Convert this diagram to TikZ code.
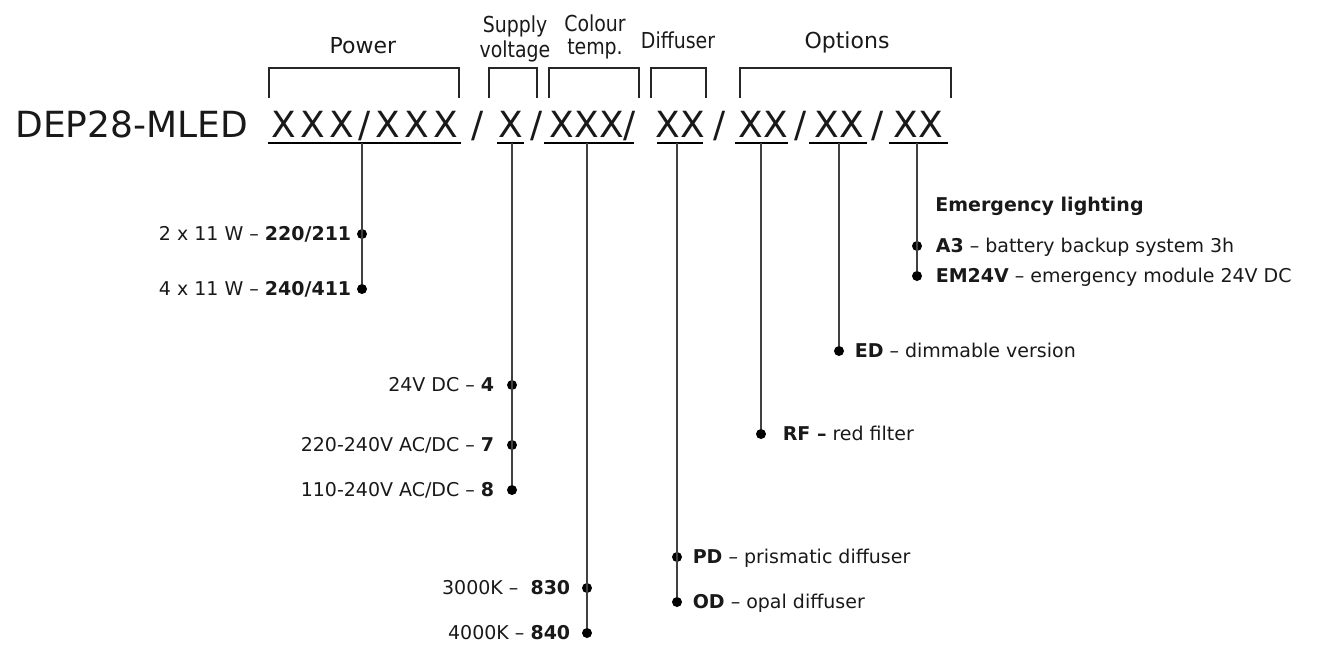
\documentclass[tikz,border=0pt]{standalone}
\usepackage{fontspec}
\setmainfont{DejaVu Sans}
\newfontfamily\narrowfont[FakeStretch=0.86]{DejaVu Sans}
\newfontfamily\xfont[LetterSpace=12]{DejaVu Sans}
\usetikzlibrary{positioning}

\begin{document}
\begin{tikzpicture}[x=0.5pt,y=-0.5pt,
    stem/.style={line width=1pt,draw=black!75},
    brk/.style={line width=0.8pt,draw=black!85},
    uline/.style={line width=1pt},
    dot/.style={circle,fill=black,inner sep=0pt,minimum size=5pt},
    lab/.style={inner sep=0pt,text height=6.9pt,text depth=0pt,
                font=\fontsize{9.5}{11}\selectfont,text=black!90},
    hd/.style={inner sep=0pt,align=center,text=black!90},
    code/.style={inner sep=0pt,anchor=base,font=\fontsize{18}{20}\selectfont,text=black!90}]
\useasboundingbox (0,0) rectangle (1327,644);

% headers
\node[hd,anchor=base,font=\fontsize{11}{12.5}\selectfont] (hpow) at (363,53) {Power};
\node[hd,font=\narrowfont\fontsize{11}{12.5}\selectfont] (hsup) at (515,39) {Supply\\voltage};
\node[hd,font=\narrowfont\fontsize{11}{11.5}\selectfont] (hcol) at (595,37) {Colour\\temp.};
\node[hd,anchor=base,font=\narrowfont\fontsize{11}{12.5}\selectfont] (hdif) at (678,48) {Diffuser};
\node[hd,anchor=base,font=\fontsize{11}{12.5}\selectfont] (hopt) at (847,48) {Options};

% brackets
\foreach \a/\b in {269/459, 489/537, 549/639, 651/706, 740/951}
   \draw[brk] (\a,98) -- (\a,68) -- (\b,68) -- (\b,98);

% code line
\node[code,anchor=base west] (model) at (15,137) {DEP28-MLED};
\node[code] (pw) at (365,137) {\xfont XXX/XXX};
\node[code] (s1) at (478,137) {/};
\node[code] (sv) at (511,137) {X};
\node[code] (s2) at (537,137) {/};
\node[code] (ct) at (593,137) {XXX/};
\node[code] (df) at (680,137) {XX};
\node[code] (s3) at (720,137) {/};
\node[code] (oa) at (763,137) {XX};
\node[code] (s4) at (801,137) {/};
\node[code] (ob) at (839,137) {XX};
\node[code] (s5) at (878,137) {/};
\node[code] (oc) at (918,137) {XX};

% underlines
\foreach \a/\b in {268/461, 497/524, 544/634, 657/703, 735/788, 809/867, 889/948}
   \draw[uline] (\a,143) -- (\b,143);

% dots
\node[dot] (p1) at (362,234) {};
\node[dot] (p2) at (362,289) {};
\node[dot] (v1) at (512,385) {};
\node[dot] (v2) at (512,445) {};
\node[dot] (v3) at (512,490) {};
\node[dot] (c1) at (587,588) {};
\node[dot] (c2) at (587,633) {};
\node[dot] (d1) at (677,557) {};
\node[dot] (d2) at (677,602) {};
\node[dot] (rf) at (761,434) {};
\node[dot] (ed) at (839,351) {};
\node[dot] (a3) at (917,246) {};
\node[dot] (em) at (917,276) {};

% stems
\coordinate (pwtop) at (362,143);
\coordinate (svtop) at (512,143);
\coordinate (cttop) at (587,143);
\coordinate (dftop) at (677,143);
\coordinate (oatop) at (761,143);
\coordinate (obtop) at (839,143);
\coordinate (octop) at (917,143);
\draw[stem] (pwtop) -- (p2);
\draw[stem] (svtop) -- (v3);
\draw[stem] (cttop) -- (c2);
\draw[stem] (dftop) -- (d2);
\draw[stem] (oatop) -- (rf);
\draw[stem] (obtop) -- (ed);
\draw[stem] (octop) -- (em);

% labels
\node[lab,left=2.5pt of p1] (lp1) {2 x 11 W – \textbf{220/211}};
\node[lab,left=2.5pt of p2] (lp2) {4 x 11 W – \textbf{240/411}};
\node[lab,left=6pt of v1] (lv1) {24V DC – \textbf{4}};
\node[lab,left=6pt of v2] (lv2) {220-240V AC/DC – \textbf{7}};
\node[lab,left=6pt of v3] (lv3) {110-240V AC/DC – \textbf{8}};
\node[lab,left=5.5pt of c1] (lc1) {3000K – \ \textbf{830}};
\node[lab,left=5.5pt of c2] (lc2) {4000K – \textbf{840}};
\node[lab,right=5pt of d1] (ld1) {\textbf{PD} – prismatic diffuser};
\node[lab,right=5pt of d2] (ld2) {\textbf{OD} – opal diffuser};
\node[lab,right=8pt of rf] (lrf) {\textbf{RF –} red filter};
\node[lab,right=5pt of ed] (led) {\textbf{ED} – dimmable version};
\node[lab,right=6.5pt of a3] (la3) {\textbf{A3} – battery backup system 3h};
\node[lab,right=6.5pt of em] (lem) {\textbf{EM24V} – emergency module 24V DC};
\node[lab,anchor=west,font=\bfseries\fontsize{9.5}{11}\selectfont] (lemg) at (935,205) {Emergency lighting};

\end{tikzpicture}
\end{document}
